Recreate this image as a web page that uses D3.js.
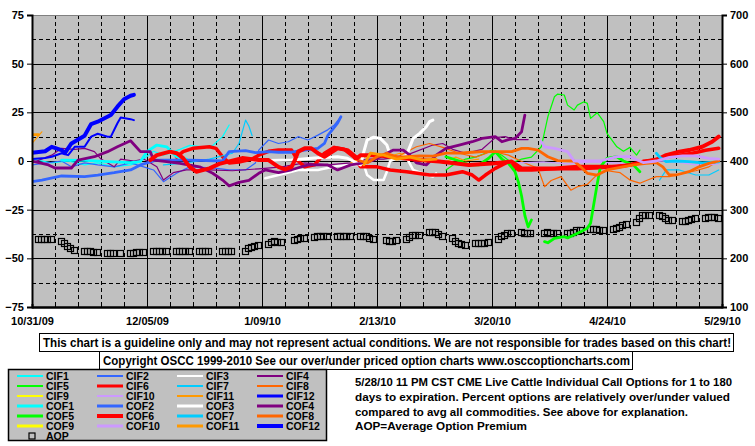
<!DOCTYPE html>
<html><head><meta charset="utf-8">
<script src="https://cdn.jsdelivr.net/npm/d3@7"></script>
<style>
html,body{margin:0;padding:0;background:#fff;}
svg{display:block;font-family:"Liberation Sans",Arial,sans-serif;font-weight:bold;}
</style></head><body>
<svg id="c" width="755" height="446"></svg>
<script>
// ---------------- DATA ----------------
const xTickLabels = ["10/31/09","12/05/09","01/09/10","02/13/10","03/20/10","04/24/10","05/29/10"];
const leftTicks = [-75,-50,-25,0,25,50,75];
const rightTicks = [100,200,300,400,500,600,700];

const CIF1 = [["10/31/09",1],["11/06/09",-1],["11/11/09",0],["11/16/09",-2],["11/20/09",-1],["11/25/09",-3],["11/30/09",-2],["12/03/09",-0.3],["12/07/09",5],["12/10/09",3],["12/15/09",6],["12/18/09",8],["12/22/09",7.3],["12/25/09",8],["12/28/09",12.5],["12/30/09",18.5]];
const CIF2 = [["10/31/09",-2],["11/09/09",0],["11/12/09",-3],["11/16/09",-1],["11/20/09",-2],["11/25/09",-3],["11/30/09",-1],["12/04/09",-3],["12/07/09",-4.6],["12/10/09",-10.6],["12/14/09",-6.3],["12/18/09",-3],["12/25/09",-3.5],["12/30/09",-4.6],["01/04/10",-4.6],["01/07/10",-1],["01/08/10",5.6],["01/11/10",10.8],["01/14/10",9],["01/17/10",9.9],["01/20/10",12.5],["01/23/10",10.8],["01/26/10",13.3],["01/29/10",16],["01/31/10",18.5],["02/02/10",22.7]];
const CIF3 = [["01/10/10",-8.9],["01/14/10",-7.2],["01/20/10",-4.6],["01/26/10",-4.6],["02/01/10",-2.5],["02/05/10",-2],["02/09/10",-2],["02/10/10",-7.2],["02/12/10",-9.8],["02/15/10",-9.8],["02/16/10",-5.5],["02/17/10",0],["02/20/10",2],["02/22/10",1.7],["02/24/10",-4.6],["02/28/10",-7.2],["03/02/10",-8],["03/03/10",-6.3]];
const CIF4 = [["10/31/09",-1],["11/06/09",3],["11/09/09",6.5],["11/13/09",6],["11/16/09",6.5],["11/19/09",4.8],["11/21/09",1],["11/25/09",-3],["11/27/09",1],["12/01/09",0],["12/04/09",1],["12/08/09",-3],["12/10/09",-9.8],["12/13/09",-6],["12/17/09",-4.6],["12/24/09",-4.6],["12/31/09",-5],["01/08/10",-4],["01/15/10",-3],["01/22/10",-1],["01/29/10",-2],["02/05/10",-1],["02/10/10",1],["02/15/10",1],["02/22/10",3],["03/02/10",8.2],["03/05/10",9],["03/08/10",6],["03/12/10",4],["03/17/10",6],["03/21/10",12],["03/24/10",12.5],["03/27/10",11],["03/31/10",11]];
const CIF5 = [["03/06/10",-4.6],["03/09/10",-1],["03/12/10",1],["03/15/10",2],["03/18/10",4],["03/20/10",5.6],["03/23/10",3],["03/26/10",-1],["03/29/10",1],["04/01/10",2],["04/04/10",7.3],["04/06/10",22.7],["04/08/10",33],["04/09/10",34.4],["04/11/10",33.9],["04/12/10",28.7],["04/14/10",26.2],["04/15/10",28.7],["04/17/10",30.4],["04/18/10",29.6],["04/19/10",21.9],["04/21/10",24.8],["04/23/10",20.2],["04/24/10",14.2],["04/27/10",7.3],["04/29/10",5],["05/01/10",7],["05/03/10",3],["05/04/10",5.6]];
const CIF6 = [["12/14/09",2],["12/16/09",4.8],["12/19/09",6.5],["12/24/09",7.3],["12/26/09",6.5],["12/28/09",2.2],["12/30/09",-1],["01/02/10",-0.5],["01/06/10",1],["01/08/10",3],["01/11/10",5],["01/14/10",5.6],["01/18/10",5.6],["01/20/10",0],["01/22/10",-3],["01/25/10",-2],["01/28/10",4],["01/31/10",7],["02/03/10",6],["02/06/10",2],["02/08/10",-3],["02/13/10",-3],["02/17/10",-4.6],["02/22/10",-5.5],["03/01/10",-7.2],["03/06/10",-7.2],["03/11/10",-5.5],["03/14/10",-7.2],["03/16/10",-9.8],["03/18/10",-7.2],["03/21/10",-3.8],["03/25/10",-0.3],["03/28/10",-4.6],["04/01/10",-4.6],["04/08/10",-4],["04/15/10",-4],["04/22/10",-3.5],["04/29/10",-2.5],["05/04/10",-1],["05/08/10",0.5],["05/12/10",2],["05/16/10",3],["05/20/10",4],["05/24/10",5.5],["05/28/10",6.5]];
const CIF7 = [["12/10/09",-2],["12/17/09",-1],["12/24/09",1],["12/31/09",4],["01/02/10",9],["01/04/10",21],["01/05/10",18],["01/06/10",13],["01/07/10",null],["05/10/10",-9.8],["05/12/10",-4.6],["05/16/10",-4.6],["05/21/10",-7.2],["05/25/10",-7.2],["05/28/10",-4.6]];
const CIF8 = [["02/20/10",3],["02/25/10",7.3],["03/01/10",9],["03/05/10",7],["03/10/10",4],["03/15/10",2],["03/20/10",5],["03/25/10",3],["03/30/10",-1],["04/03/10",-3.8],["04/05/10",-13.2],["04/07/10",-10],["04/10/10",-8],["04/13/10",-15],["04/15/10",-13.2],["04/18/10",-12],["04/21/10",-7],["04/24/10",-5],["04/28/10",-6],["05/01/10",-9.8],["05/04/10",-11.4],["05/06/10",-10],["05/09/10",-8],["05/13/10",-8],["05/17/10",-6.3],["05/21/10",-5],["05/25/10",-3],["05/28/10",0]];
const CIF9 = [];
const CIF10 = [["03/22/10",-1.2],["03/28/10",-1],["04/05/10",-0.5],["04/12/10",-1.5],["04/19/10",-0.5],["04/26/10",-1],["05/03/10",-1.5],["05/10/10",0],["05/17/10",-1],["05/21/10",-2],["05/25/10",-2],["05/28/10",-1.5]];
const CIF11 = [["10/31/09",9],["11/03/09",15],["11/04/09",null],["02/05/10",-1],["02/09/10",2],["02/12/10",3],["02/16/10",2],["02/20/10",4],["02/25/10",0],["03/01/10",1],["03/05/10",-1],["03/09/10",2],["03/12/10",0],["03/16/10",1]];
const CIF12 = [["10/31/09",1],["11/04/09",1.5],["11/06/09",2.2],["11/09/09",4],["11/11/09",3],["11/13/09",7.3],["11/16/09",7.3],["11/18/09",12.5],["11/20/09",14],["11/23/09",12.5],["11/24/09",12.5],["11/26/09",19.4],["11/27/09",22.4],["11/30/09",21.5],["12/01/09",21]];

const COF1 = [["11/09/09",0.5],["11/16/09",0.3],["11/23/09",-0.3],["11/30/09",-0.8],["12/03/09",-0.3],["12/05/09",4.8],["12/08/09",8.2],["12/11/09",7.3],["12/14/09",2.2],["12/17/09",1]];
const COF2 = [["10/31/09",-10.6],["11/03/09",-9.8],["11/09/09",-7.7],["11/16/09",-8],["11/20/09",-7.2],["11/25/09",-6],["11/30/09",-4.6],["12/03/09",-2],["12/08/09",0.5],["12/18/09",0.5],["12/28/09",0],["12/30/09",4.8],["01/04/10",5.3],["01/07/10",4.3],["01/11/10",4.8],["01/14/10",4.5],["01/18/10",4.5],["01/22/10",5.6],["01/26/10",6.5],["01/28/10",9],["01/29/10",13],["02/01/10",19.4],["02/02/10",22.7]];
const COF3 = [["01/06/10",0.3],["01/11/10",0.3],["01/18/10",0.5],["01/25/10",1.5],["02/01/10",2.2],["02/04/10",1.4],["02/08/10",-2],["02/09/10",4.8],["02/10/10",10.8],["02/12/10",12.2],["02/14/10",11.6],["02/16/10",8.2],["02/17/10",3],["02/19/10",1],["02/22/10",3],["02/24/10",11.6],["02/26/10",14.2],["02/28/10",17.6],["03/01/10",20.2],["03/02/10",21]];
const COF4 = [["10/31/09",0],["11/05/09",-2],["11/07/09",-3.6],["11/12/09",-3.6],["11/14/09",0.5],["11/19/09",2.2],["11/23/09",4.8],["11/26/09",7.3],["11/30/09",10.4],["12/02/09",6.7],["12/03/09",4.8],["12/06/09",4.8],["12/07/09",0.5],["12/11/09",-0.3],["12/15/09",-1.2],["12/21/09",-3],["12/25/09",-6.3],["12/28/09",-9.8],["12/30/09",-12.8],["01/02/10",-11],["01/05/10",-10],["01/08/10",-6.3],["01/10/10",-4.6],["01/14/10",-6],["01/18/10",-4.5],["01/23/10",-2],["01/29/10",-2],["02/01/10",-4.6],["02/05/10",-2],["02/08/10",-1.2],["02/12/10",0.5],["02/16/10",4],["02/18/10",5.6],["02/21/10",5.6],["02/23/10",3],["02/25/10",-1],["02/28/10",-2],["03/03/10",3],["03/06/10",6.5],["03/10/10",8.2],["03/14/10",9.9],["03/17/10",11.6],["03/21/10",12.5],["03/23/10",9.9],["03/25/10",11],["03/27/10",11.6],["03/29/10",15],["03/30/10",23.6]];
const COF5 = [["03/06/10",2.2],["03/10/10",0],["03/13/10",-2],["03/16/10",-2],["03/19/10",1.4],["03/21/10",4.8],["03/23/10",1],["03/25/10",-1.2],["03/27/10",-5.5],["03/28/10",-10.6],["03/29/10",-18],["03/30/10",-28],["03/31/10",-33.8],["04/01/10",-30.3],["04/02/10",null],["04/05/10",-41.4],["04/06/10",-42],["04/08/10",-39.7],["04/11/10",-38.9],["04/12/10",-39.5],["04/16/10",-36.3],["04/18/10",-34.6],["04/19/10",-32],["04/20/10",-22],["04/21/10",-12],["04/22/10",-3],["04/24/10",1.4],["04/27/10",2.2],["04/29/10",0],["05/02/10",-2],["05/04/10",-5.5]];
const COF6 = [["12/06/09",0.5],["12/08/09",3],["12/12/09",4.8],["12/14/09",4],["12/16/09",1.5],["12/18/09",-3],["12/20/09",-5.5],["12/24/09",-3.8],["12/27/09",-1.5],["01/03/10",1.5],["01/08/10",0.5],["01/11/10",0.5],["01/14/10",-3],["01/16/10",-4.3],["01/18/10",-3],["01/19/10",0.5],["01/20/10",4.8],["01/22/10",6.5],["01/24/10",6.5],["01/26/10",4],["01/28/10",2.2],["02/01/10",6.5],["02/04/10",5.6],["02/07/10",1.4],["02/08/10",3],["02/13/10",3],["02/21/10",1.4],["02/26/10",0.5],["03/04/10",-0.3],["03/13/10",-2],["03/21/10",-1.2],["03/26/10",-0.3],["03/29/10",-3.8],["04/08/10",-3.8],["04/15/10",-3],["04/27/10",-3],["05/01/10",-2],["05/05/10",-0.3],["05/09/10",0.5],["05/12/10",3],["05/16/10",4.8],["05/19/10",5.6],["05/23/10",7.3],["05/26/10",9.9],["05/28/10",12.5]];
const COF7 = [["05/09/10",4],["05/10/10",2],["05/12/10",-0.3],["05/15/10",0],["05/19/10",-0.3],["05/23/10",-1],["05/28/10",-0.5]];
const COF8 = [["02/08/10",0],["02/10/10",-1],["02/13/10",2.2],["02/16/10",4],["02/19/10",2],["02/22/10",2.2],["02/26/10",2.6],["03/02/10",2.5],["03/06/10",4],["03/10/10",4],["03/14/10",4.5],["03/17/10",4.8],["03/22/10",4.8],["03/26/10",4.8],["03/29/10",6.5],["03/31/10",6.5],["04/03/10",5.6],["04/06/10",2.2],["04/09/10",0.2],["04/14/10",0],["04/16/10",-3],["04/18/10",-6.3],["04/21/10",-7.2],["04/24/10",-4.6],["04/28/10",-3.3],["05/02/10",-2],["05/06/10",-1.2],["05/09/10",-0.8],["05/11/10",-3],["05/13/10",-7.2],["05/15/10",-7.2],["05/19/10",-5.5],["05/22/10",-3],["05/25/10",-1.2],["05/28/10",0]];
const COF9 = [];
const COF10 = [["04/04/10",9.9],["04/05/10",7.3],["04/08/10",6.5],["04/12/10",4.8],["04/14/10",0],["04/18/10",0],["04/22/10",0],["04/27/10",2.2],["05/01/10",2.2],["05/05/10",-0.8],["05/09/10",0],["05/13/10",1.9],["05/17/10",2.6],["05/21/10",2.6],["05/25/10",1.4],["05/28/10",1]];
const COF11 = [["10/31/09",13.5],["11/02/09",13.5],["11/03/09",null],["02/09/10",-2],["02/11/10",4],["02/15/10",3],["02/19/10",1],["02/23/10",2],["02/27/10",0.5],["03/03/10",1]];
const COF12 = [["10/31/09",4.2],["11/04/09",5],["11/06/09",7.3],["11/09/09",5.6],["11/10/09",4.1],["11/12/09",9],["11/16/09",13],["11/18/09",19],["11/20/09",20.2],["11/24/09",23.6],["11/26/09",27.9],["11/28/09",31.7],["11/30/09",33.5],["12/01/09",34]];

// Average Option Premium (right axis), one row per trading week Mon..Fri, null = holiday
const AOP_WEEKS = ["11/02/09","11/09/09","11/16/09","11/23/09","11/30/09","12/07/09","12/14/09","12/21/09","12/28/09","01/04/10","01/11/10","01/18/10","01/25/10","02/01/10","02/08/10","02/15/10","02/22/10","03/01/10","03/08/10","03/15/10","03/22/10","03/29/10","04/05/10","04/12/10","04/19/10","04/26/10","05/03/10","05/10/10","05/17/10","05/24/10"];
const AOP_VALUES = [
 [237,238,238,237,237],[233,230,223,219,216],[214,213,212,210,210],[208,208,208,null,208],[208,209,210,211,211],
 [212,212,212,212,212],[213,213,213,213,213],[212,212,212,212,null],[212,212,212,213,null],[214,219,222,224,226],
 [228,232,233,232,232],[null,236,238,239,240],[242,244,244,244,244],[244,244,244,244,244],[244,244,243,240,237],
 [null,236,234,234,236],[238,242,245,246,246],[252,252,252,247,243],[240,234,230,227,226],[229,229,229,229,232],
 [238,243,246,249,249],[252,250,249,249,null],[249,252,249,249,249],[249,250,253,256,256],[258,258,258,257,257],
 [258,260,263,266,268],[273,280,287,287,286],[288,284,280,277,277],[275,275,277,279,280],[281,282,283,282,281]
];

const seriesNames = ["CIF1","CIF2","CIF3","CIF4","CIF5","CIF6","CIF7","CIF8","CIF9","CIF10","CIF11","CIF12",
                     "COF1","COF2","COF3","COF4","COF5","COF6","COF7","COF8","COF9","COF10","COF11","COF12"];
const seriesData = [CIF1,CIF2,CIF3,CIF4,CIF5,CIF6,CIF7,CIF8,CIF9,CIF10,CIF11,CIF12,
                    COF1,COF2,COF3,COF4,COF5,COF6,COF7,COF8,COF9,COF10,COF11,COF12];

// ---------------- STYLE ----------------
const palette = ["#00FFFF","#3366FF","#FFFFFF","#800080","#00FF00","#FF0000","#00CCFF","#FF6600","#FFFF00","#CC99FF","#FF9900","#0000FF"];
const cifWidth = [1.2,1.2,2.5,1.2,1.2,3.5,1.2,1.2,1.2,1.2,1.2,2];
const cofWidth = [2.8,2.8,3,2.8,2.8,4,2.8,2.8,2.8,2.8,2.8,4];
const legCif = [2,2,2,2,2,3,2,2,2,2,2,3];
const legCof = [3,3,3,3,3,4,3,3,3,3,3,4];

const L=32, R=722, T=15, B=307;
const parse = d3.timeParse("%m/%d/%y");
const svg = d3.select("#c");

const x0 = parse("10/31/09"), x1 = parse("05/29/10");
const x = d3.scaleTime().domain([x0, x1]).range([L,R]);
const yL = d3.scaleLinear().domain([-75,75]).range([B,T]);
const yR = d3.scaleLinear().domain([100,700]).range([B,T]);

// plot background
svg.append("rect").attr("x",L).attr("y",T).attr("width",R-L).attr("height",B-T).attr("fill","#C0C0C0");

// grid (weekly verticals, every 5th week solid)
const g = svg.append("g");
const weeks = d3.range(0, 211, 7).map(i=>d3.timeDay.offset(x0, i));
weeks.forEach((d,i)=>{
  if(i===0 || i===weeks.length-1) return;
  const major = i%5===0;
  const px = Math.round(x(d))+0.5;
  g.append("line").attr("x1",px).attr("x2",px).attr("y1",T).attr("y2",B)
   .attr("stroke","#000").attr("stroke-width",1).attr("stroke-dasharray",major?null:"4,3");
});
const hVals = d3.range(-62.5, 75, 12.5);
hVals.forEach(v=>{
  const major = (v%25===0);
  const py = Math.round(yL(v))+0.5;
  g.append("line").attr("x1",L).attr("x2",R).attr("y1",py).attr("y2",py)
   .attr("stroke","#000").attr("stroke-width",1).attr("stroke-dasharray",major?null:"4,3");
});
// top border
svg.append("line").attr("x1",L).attr("x2",R).attr("y1",T+0.5).attr("y2",T+0.5).attr("stroke","#808080");

// clip
svg.append("clipPath").attr("id","plotclip").append("rect").attr("x",L).attr("y",T).attr("width",R-L).attr("height",B-T);

// AOP markers
const aop = [];
AOP_WEEKS.forEach((w,i)=>{
  AOP_VALUES[i].forEach((v,j)=>{ if(v!=null) aop.push([d3.timeDay.offset(parse(w),j), v]); });
});
svg.append("g").attr("clip-path","url(#plotclip)").selectAll("rect").data(aop).join("rect")
  .attr("x",d=>Math.round(x(d[0]))-3.5).attr("y",d=>Math.round(yR(d[1]))-3.5).attr("width",6).attr("height",6)
  .attr("fill","none").attr("stroke","#000").attr("stroke-width",1.2);

// lines
const line = d3.line().defined(d=>d[1]!=null).x(d=>x(parse(d[0]))).y(d=>yL(d[1]));
const lg = svg.append("g").attr("clip-path","url(#plotclip)");
seriesData.forEach((data,i)=>{
  if(!data.length) return;
  const k = i%12, cof = i>=12;
  lg.append("path").attr("d",line(data)).attr("fill","none")
    .attr("stroke",palette[k]).attr("stroke-width",cof?cofWidth[k]:cifWidth[k])
    .attr("stroke-linejoin","round").attr("stroke-linecap","round");
});

// axes
const axL = svg.append("g").attr("transform",`translate(${L},0)`)
  .call(d3.axisLeft(yL).tickValues(leftTicks).tickSize(5).tickPadding(3));
const axR = svg.append("g").attr("transform",`translate(${R},0)`)
  .call(d3.axisRight(yR).tickValues(rightTicks).tickSize(5).tickPadding(3));
const axB = svg.append("g").attr("transform",`translate(0,${B})`)
  .call(d3.axisBottom(x).tickValues(xTickLabels.map(parse)).tickFormat(d3.timeFormat("%-m/%d/%y")).tickSize(0).tickPadding(10));
const axBm = svg.append("g").attr("transform",`translate(0,${B})`)
  .call(d3.axisBottom(x).tickValues(weeks).tickFormat("").tickSize(-3));
[axL,axR,axB,axBm].forEach(a=>{
  a.selectAll(".domain").attr("stroke","#000").attr("stroke-width",2);
  a.selectAll(".tick line").attr("stroke","#000").attr("stroke-width",1);
  a.selectAll("text").attr("fill","#000").style("font-size","11px").style("font-weight","bold")
   .style("font-family",'"Liberation Sans",Arial,sans-serif');
});

// text helpers
function txt(xp, yp, s, size, width, anchor){
  const t = svg.append("text").attr("x",xp).attr("y",yp).text(s)
    .style("font-size",size+"px").attr("text-anchor",anchor||"start").attr("fill","#000");
  if(width) t.attr("textLength",width).attr("lengthAdjust","spacingAndGlyphs");
  return t;
}

// disclaimer boxes
svg.append("rect").attr("x",39.5).attr("y",333.5).attr("width",694).attr("height",18).attr("fill","#fff").attr("stroke","#000");
txt(387, 346.5, "This chart is a guideline only and may not represent actual conditions. We are not responsible for trades based on this chart!", 12, 688, "middle");
svg.append("rect").attr("x",99.5).attr("y",351.5).attr("width",533).attr("height",18).attr("fill","#fff").attr("stroke","#000");
txt(366.5, 364.5, "Copyright OSCC 1999-2010 See our over/under priced option charts www.osccoptioncharts.com", 12, 527, "middle");

// legend
svg.append("rect").attr("x",8.5).attr("y",369.5).attr("width",318).attr("height",71).attr("fill","#C0C0C0").attr("stroke","#000").attr("stroke-width",1.5);
seriesNames.forEach((n,i)=>{
  const r = Math.floor(i/4), c = i%4, k=i%12, cof=i>=12;
  const yy = 376 + r*10;
  svg.append("line").attr("x1",17+80*c).attr("x2",43+80*c).attr("y1",yy).attr("y2",yy)
    .attr("stroke",palette[k]).attr("stroke-width",cof?legCof[k]:legCif[k]);
  txt(46+80*c, yy+4, n, 10.5, null);
});
svg.append("rect").attr("x",29).attr("y",433).attr("width",6).attr("height",6).attr("fill","none").attr("stroke","#000").attr("stroke-width",1.2);
txt(46, 440, "AOP", 10.5, null);

// description
txt(355, 385.5, "5/28/10 11 PM CST CME Live Cattle Individual Call Options for 1 to 180", 11.5, 377);
txt(355, 400.5, "days to expiration. Percent options are relatively over/under valued", 11.5, 375);
txt(355, 415.5, "compared to avg all commodities. See above for explanation.", 11.5, 333);
txt(355, 430, "AOP=Average Option Premium", 11.5, 172);
</script></body></html>
